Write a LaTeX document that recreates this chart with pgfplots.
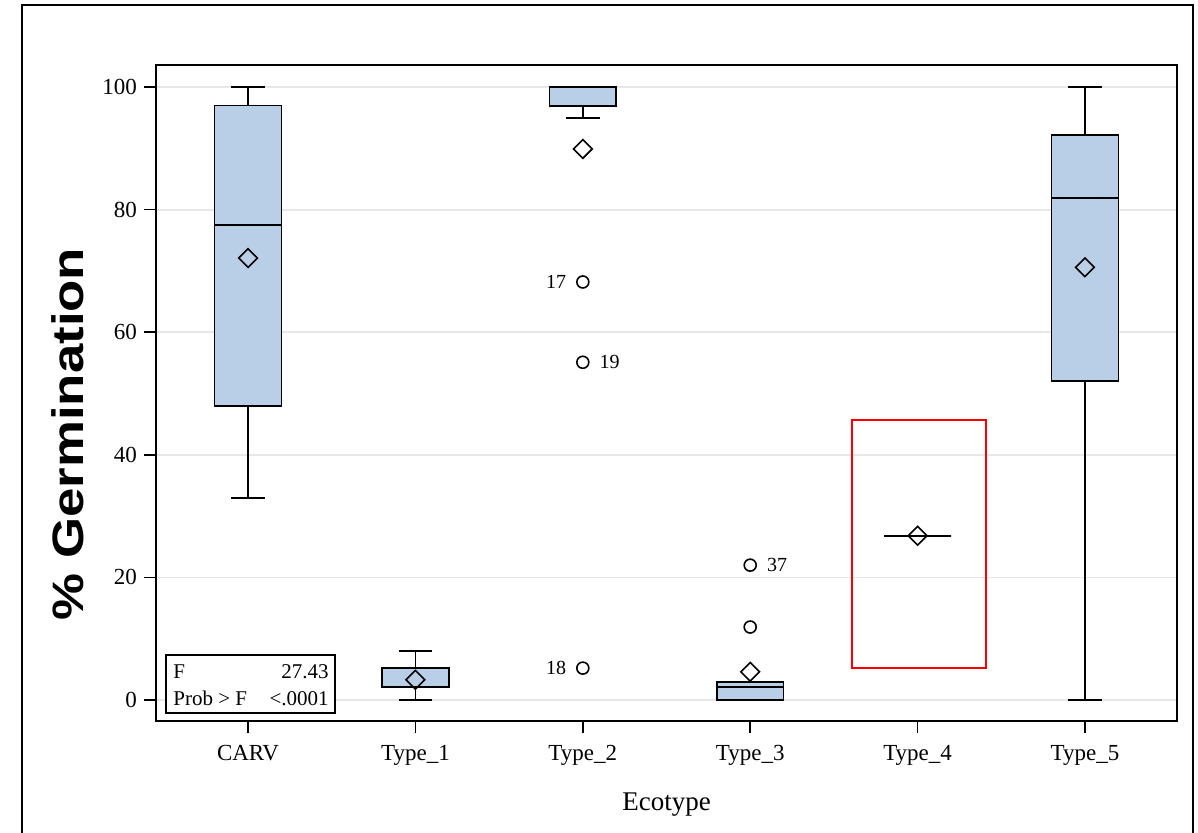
\documentclass[border=0pt]{standalone}
\usepackage{fontspec}
\setmainfont{Liberation Serif}
\newfontfamily\labelfont{Liberation Sans}
\usepackage{pgfplots}
\usepgfplotslibrary{statistics}
\pgfplotsset{compat=1.18}
\definecolor{boxfill}{RGB}{185,207,231}
\definecolor{gridc}{RGB}{232,232,232}
\begin{document}
\begin{tikzpicture}
\useasboundingbox (0,0) rectangle (599pt,416pt);
\draw[line width=1pt] (11pt,-1pt) -- (11pt,413.5pt) -- (596.5pt,413.5pt) -- (596.5pt,-1pt);
\begin{axis}[
  at={(78pt,55.5pt)}, anchor=south west,
  scale only axis, width=510.5pt, height=328pt,
  xmin=-0.55, xmax=5.55, ymin=-3.43, ymax=103.6,
  xtick={0,1,2,3,4,5},
  xticklabels={CARV,Type\_1,Type\_2,Type\_3,Type\_4,Type\_5},
  ytick={0,20,40,60,80,100},
  xtick pos=bottom, ytick pos=left,
  tick align=outside, major tick length=6pt,
  tick style={black, line width=0.8pt},
  ymajorgrids, grid style={gridc, line width=0.9pt},
  axis line style={line width=0.8pt},
  tick label style={font=\fontsize{11.5}{13}\selectfont},
  xticklabel style={yshift=-2.5pt},
  /pgf/number format/assume math mode=true,
  boxplot/draw direction=y,
  boxplot/every box/.style={draw=black, fill=boxfill, line width=0.8pt},
  boxplot/every whisker/.style={black, line width=0.8pt},
  boxplot/every median/.style={black, line width=0.8pt},
]
% boxes
\addplot[black, line width=0.8pt, boxplot prepared={draw position=0, lower whisker=33, lower quartile=48, median=77.5, upper quartile=97, upper whisker=100, box extend=0.4, whisker extend=0.2}] coordinates {};
\addplot[black, line width=0.8pt, boxplot prepared={draw position=1, lower whisker=0, lower quartile=2.1, median=2.1, upper quartile=5.2, upper whisker=8, box extend=0.4, whisker extend=0.2}] coordinates {};
\addplot[black, line width=0.8pt, boxplot prepared={draw position=2, lower whisker=95, lower quartile=96.9, median=100, upper quartile=100, upper whisker=100, box extend=0.4, whisker extend=0.2}] coordinates {};
\addplot[black, line width=0.8pt, boxplot prepared={draw position=3, lower whisker=0, lower quartile=0, median=2.1, upper quartile=2.9, upper whisker=2.9, box extend=0.4, whisker extend=0.2}] coordinates {};
\addplot[black, line width=0.8pt, boxplot prepared={draw position=4, lower whisker=26.8, lower quartile=26.8, median=26.8, upper quartile=26.8, upper whisker=26.8, box extend=0.4, whisker extend=0.2}] coordinates {};
\addplot[black, line width=0.8pt, boxplot prepared={draw position=5, lower whisker=0, lower quartile=52, median=81.9, upper quartile=92.2, upper whisker=100, box extend=0.4, whisker extend=0.2}] coordinates {};
% means
\addplot[only marks, mark=square, mark size=3.3pt, mark options={rotate=45, fill=none, draw=black, line width=0.8pt}] coordinates {(0,72.1) (1,3.3) (2,89.9) (3,4.6) (4,26.8) (5,70.6)};
% outliers labelled on the left
\addplot[only marks, mark=o, mark size=3pt, black, line width=0.8pt,
  point meta=explicit symbolic, nodes near coords,
  every node near coord/.append style={anchor=east, xshift=-8pt, yshift=0pt, inner sep=0pt, font=\fontsize{10}{12}\selectfont}]
  coordinates {(2,68.2) [17] (2,5.2) [18]};
% outliers labelled on the right
\addplot[only marks, mark=o, mark size=3pt, black, line width=0.8pt,
  point meta=explicit symbolic, nodes near coords,
  every node near coord/.append style={anchor=west, xshift=8pt, yshift=0pt, inner sep=0pt, font=\fontsize{10}{12}\selectfont}]
  coordinates {(2,55.1) [19] (3,22.0) [37]};
% unlabelled outlier
\addplot[only marks, mark=o, mark size=3pt, black, line width=0.8pt] coordinates {(3,11.9)};
% red highlight
\addplot[red, line width=1.2pt, mark=none] coordinates {(3.608,45.7) (4.409,45.7) (4.409,5.2) (3.608,5.2)} -- cycle;
\end{axis}
% stats inset
\draw[line width=0.7pt, fill=white] (83pt,59.5pt) rectangle (167.5pt,88.5pt);
\node[anchor=base west, inner sep=0pt, font=\fontsize{10.5}{12}\selectfont] at (86.5pt,77pt) {F};
\node[anchor=base east, inner sep=0pt, font=\fontsize{10.5}{12}\selectfont] at (164.5pt,77pt) {27.43};
\node[anchor=base west, inner sep=0pt, font=\fontsize{10.5}{12}\selectfont] at (86.5pt,63.5pt) {Prob > F};
\node[anchor=base east, inner sep=0pt, font=\fontsize{10.5}{12}\selectfont] at (164.5pt,63.5pt) {<.0001};
% axis labels
\node[rotate=90, inner sep=0pt, font=\labelfont\bfseries\fontsize{22}{26}\selectfont] at (33.75pt,199pt) {\scalebox{1.2}[1]{\% Germination}};
\node[anchor=base, inner sep=0pt, font=\fontsize{13.5}{16}\selectfont] at (333.25pt,11pt) {Ecotype};
\end{tikzpicture}
\end{document}
